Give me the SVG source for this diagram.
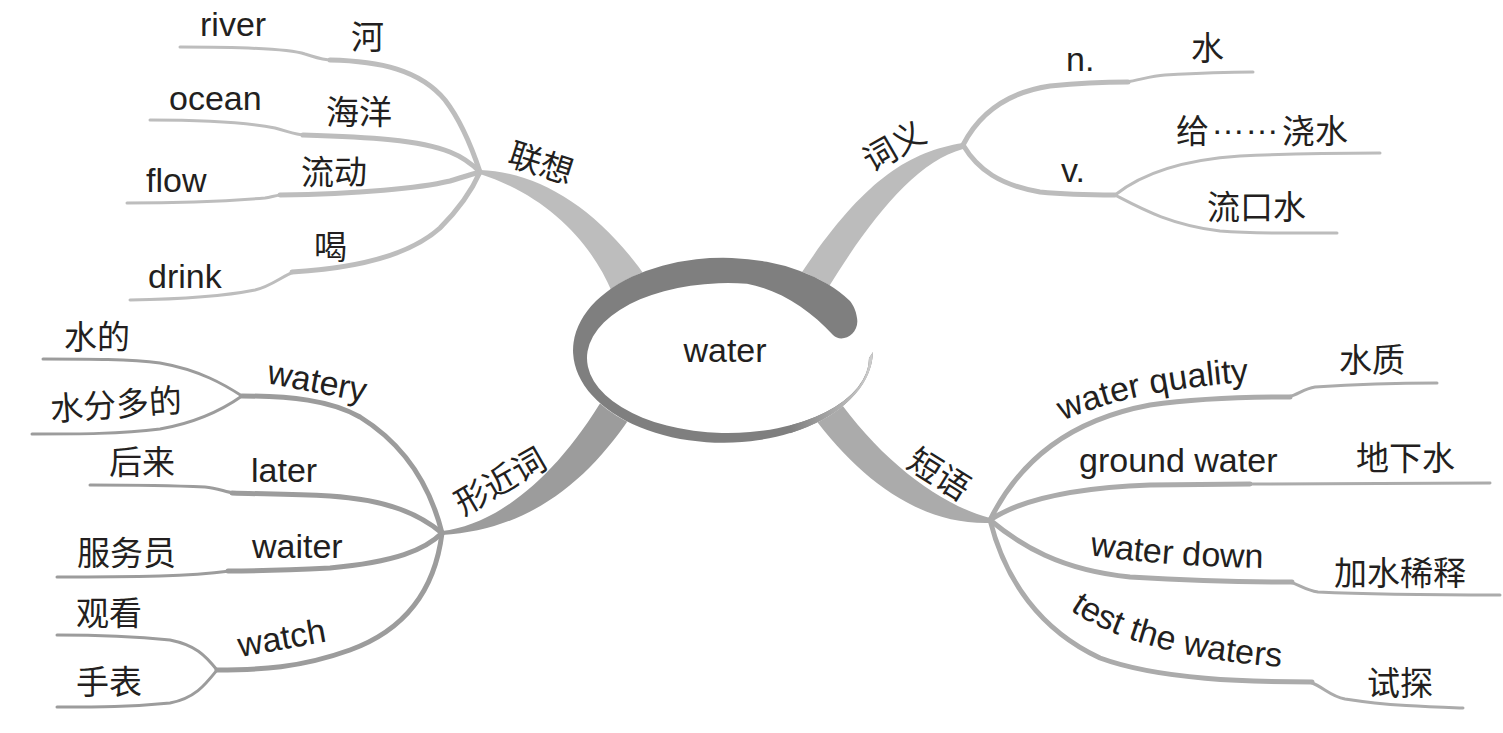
<svg xmlns="http://www.w3.org/2000/svg" width="1503" height="733" viewBox="0 0 1503 733">
<style>
.en{font-family:"Liberation Sans",Arial,sans-serif;font-size:34px;fill:#231f20}
.zh{font-family:"Noto Sans CJK SC","Noto Sans CJK TC",sans-serif;font-size:33px;fill:#231f20}
.dots{font-family:"Liberation Sans",Arial,sans-serif;font-size:34px}
.l{fill:none;stroke-linecap:round;stroke-linejoin:round}
.w5{stroke-width:5}
.w3{stroke-width:3}
.tl{stroke:#bdbdbd}
.tr{stroke:#bcbcbc}
.bl{stroke:#9c9c9c}
.br{stroke:#ababab}
</style>
<defs>
<linearGradient id="rg" gradientUnits="userSpaceOnUse" x1="790" y1="0" x2="874" y2="0">
<stop offset="0" stop-color="#808080"/>
<stop offset="1" stop-color="#cfcfcf"/>
</linearGradient>
<path id="pq" d="M1063,421 Q1135,388 1265,381"/>
<path id="pd" d="M1090,555 Q1160,566 1262,568"/>
<path id="pt" d="M1070,610 Q1140,658 1295,668"/>
</defs>
<rect width="1503" height="733" fill="#ffffff"/>
<g id="connectors">
<path fill="#bdbdbd" d="M480,170 C540,172 600,210 648,280 L612,292 C590,240 545,195 480,174 Z"/>
<path fill="#bcbcbc" d="M963,143 C905,152 860,185 800,275 L828,288 C870,220 915,162 963,149 Z"/>
<path fill="#ababab" d="M990,518 C940,505 880,460 835,395 L812,415 C860,480 920,525 990,523 Z"/>
<path fill="#9c9c9c" d="M442,531 C495,525 555,480 605,395 L635,410 C590,480 530,530 442,535 Z"/>
<path class="l tl w3" d="M180,47 C250,47 290,49 305,54 C315,57 322,60 332,60"/>
<path class="l tl w5" d="M330,60 C380,61 420,70 445,100 C462,122 472,148 480,172"/>
<path class="l tl w3" d="M150,120 C210,120 250,123 275,128 C290,132 295,135 305,135"/>
<path class="l tl w5" d="M303,135 C370,137 420,140 450,152 C465,158 473,165 480,172"/>
<path class="l tl w3" d="M127,203 C180,203 240,200 265,198 C272,197 276,195 282,195"/>
<path class="l tl w5" d="M280,195 C360,194 420,188 450,181 C463,177 472,174 480,172"/>
<path class="l tl w3" d="M130,300 C190,299 230,295 255,290 C272,286 282,276 294,272"/>
<path class="l tl w5" d="M292,272 C360,268 410,255 440,228 C458,210 472,190 480,172"/>
<path class="l tr w5" d="M963,145 C980,112 1010,92 1050,86 C1080,83 1110,82 1128,82"/>
<path class="l tr w3" d="M1126,82 C1140,80 1150,76 1165,75 C1200,73 1230,72 1253,72"/>
<path class="l tr w5" d="M963,145 C978,170 1000,185 1040,192 C1070,195 1095,195 1115,195"/>
<path class="l tr w3" d="M1115,195 C1140,175 1180,160 1240,156 C1300,153 1340,153 1380,153"/>
<path class="l tr w3" d="M1115,195 C1140,208 1170,225 1220,231 C1260,234 1300,233 1337,233"/>
<path class="l br w5" d="M990,520 C1020,460 1070,420 1150,405 C1200,398 1250,397 1290,397"/>
<path class="l br w3" d="M1288,397 C1298,395 1303,389 1315,387 C1360,384 1400,383 1437,383"/>
<path class="l br w5" d="M990,520 C1020,500 1070,488 1150,485 L1250,484"/>
<path class="l br w3" d="M1248,484 L1490,483"/>
<path class="l br w5" d="M990,520 C1020,545 1060,570 1130,577 C1200,581 1260,582 1292,582"/>
<path class="l br w3" d="M1290,582 C1300,585 1305,590 1318,592 C1380,595 1440,595 1500,595"/>
<path class="l br w5" d="M990,520 C1005,580 1040,630 1100,658 C1160,680 1250,682 1312,682"/>
<path class="l br w3" d="M1310,682 C1325,688 1330,696 1345,699 C1390,706 1430,707 1463,708"/>
<path class="l bl w5" d="M442,533 C430,485 405,445 360,417 C330,400 290,396 242,396"/>
<path class="l bl w3" d="M242,396 C225,385 200,370 160,363 C130,359 90,359 43,359"/>
<path class="l bl w3" d="M242,396 C225,408 200,422 160,429 C120,434 80,434 32,434"/>
<path class="l bl w5" d="M442,533 C420,515 390,500 330,496 C290,494 260,494 232,493"/>
<path class="l bl w3" d="M234,493 C225,492 218,488 205,487 C160,485 120,485 90,485"/>
<path class="l bl w5" d="M442,533 C425,550 395,562 330,568 C290,570 260,571 228,571"/>
<path class="l bl w3" d="M230,571 C215,573 200,575 160,576 C120,577 90,577 57,577"/>
<path class="l bl w5" d="M442,533 C435,590 405,630 350,650 C300,668 260,670 217,670"/>
<path class="l bl w3" d="M217,670 C205,655 195,645 170,640 C130,636 100,635 57,635"/>
<path class="l bl w3" d="M217,670 C205,685 195,698 170,703 C130,707 100,707 57,707"/>
</g>
<g id="center">
<ellipse cx="723" cy="350.5" rx="150" ry="92.5" fill="#ffffff"/>
<path fill="#7f7f7f" d="M850,301 A150,92.5 0 1 0 873,352 L869,358 A141,75 0 1 1 747,283.7 C780,290 810,310 833,335 C842,344 860,334 857,318 C856,310 853,305 850,301 Z"/>
<path fill="url(#rg)" d="M873,352 A150,92.5 0 0 1 790,433.3 L790,425.4 A141,75 0 0 0 869,358 Z"/>
<text class="en" x="725" y="362" text-anchor="middle">water</text>
</g>
<g id="n-lianxiang"><text class="zh" transform="translate(541,163) rotate(18)" x="0" y="12" text-anchor="middle">联想</text></g>
<g id="n-river"><text class="en" x="200" y="36">river</text></g>
<g id="n-he"><text class="zh" x="351" y="49">河</text></g>
<g id="n-ocean"><text class="en" x="169" y="110">ocean</text></g>
<g id="n-haiyang"><text class="zh" x="326" y="124">海洋</text></g>
<g id="n-flow"><text class="en" x="146" y="192">flow</text></g>
<g id="n-liudong"><text class="zh" x="301" y="184">流动</text></g>
<g id="n-drink"><text class="en" x="148" y="288">drink</text></g>
<g id="n-he2"><text class="zh" x="314" y="259">喝</text></g>
<g id="n-ciyi"><text class="zh" transform="translate(894,146) rotate(-30)" x="0" y="12" text-anchor="middle">词义</text></g>
<g id="n-n"><text class="en" x="1066" y="71">n.</text></g>
<g id="n-shui"><text class="zh" x="1191" y="60">水</text></g>
<g id="n-v"><text class="en" x="1061" y="182">v.</text></g>
<g id="n-jiaoshui"><text class="zh" y="143"><tspan x="1176">给</tspan><tspan class="dots" x="1211" dy="-9">……</tspan><tspan x="1282" dy="9">浇水</tspan></text></g>
<g id="n-liukoushui"><text class="zh" x="1207" y="219">流口水</text></g>
<g id="n-duanyu"><text class="zh" transform="translate(939,474) rotate(32)" x="0" y="12" text-anchor="middle">短语</text></g>
<g id="n-waterquality"><text class="en"><textPath href="#pq">water quality</textPath></text></g>
<g id="n-shuizhi"><text class="zh" x="1339" y="372">水质</text></g>
<g id="n-groundwater"><text class="en" x="1079" y="472">ground water</text></g>
<g id="n-dixiashui"><text class="zh" x="1356" y="470">地下水</text></g>
<g id="n-waterdown"><text class="en"><textPath href="#pd">water down</textPath></text></g>
<g id="n-jiashui"><text class="zh" x="1334" y="585">加水稀释</text></g>
<g id="n-testwaters"><text class="en"><textPath href="#pt">test the waters</textPath></text></g>
<g id="n-shitan"><text class="zh" x="1367" y="695">试探</text></g>
<g id="n-xingjinci"><text class="zh" transform="translate(500,481) rotate(-30)" x="0" y="12" text-anchor="middle">形近词</text></g>
<g id="n-watery"><text class="en" transform="rotate(11 266 383)" x="266" y="383">watery</text></g>
<g id="n-shuide"><text class="zh" x="64" y="349">水的</text></g>
<g id="n-shuifen"><text class="zh" transform="rotate(-4 52 421)" x="51" y="421">水分多的</text></g>
<g id="n-later"><text class="en" x="251" y="482">later</text></g>
<g id="n-houlai"><text class="zh" x="109" y="474">后来</text></g>
<g id="n-waiter"><text class="en" x="252" y="558">waiter</text></g>
<g id="n-fuwuyuan"><text class="zh" x="77" y="565">服务员</text></g>
<g id="n-watch"><text class="en" transform="rotate(-10 240 657)" x="240" y="657">watch</text></g>
<g id="n-guankan"><text class="zh" x="76" y="625">观看</text></g>
<g id="n-shoubiao"><text class="zh" x="76" y="694">手表</text></g>
</svg>
